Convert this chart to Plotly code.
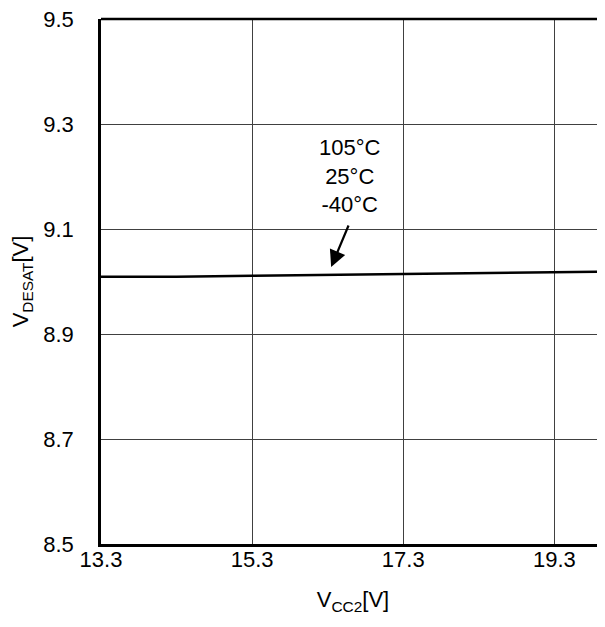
import plotly.graph_objects as go

vcc2 = [13.3, 14.3, 15.3, 16.3, 17.3, 18.3, 19.3, 20.0]
vdesat = [9.009, 9.009, 9.011, 9.013, 9.014, 9.016, 9.018, 9.019]
x_ticks = [13.3, 15.3, 17.3, 19.3]
y_ticks = [8.5, 8.7, 8.9, 9.1, 9.3, 9.5]
label_text = "105°C<br>25°C<br>-40°C"

FONT = "Liberation Sans, Arial, sans-serif"

fig = go.Figure()
fig.add_trace(go.Scatter(x=vcc2, y=vdesat, mode="lines",
                         line=dict(color="black", width=2.5),
                         showlegend=False, hoverinfo="skip"))

fig.add_annotation(x=16.6, y=9.201, xref="x", yref="y", text=label_text,
                   showarrow=False, font=dict(family=FONT, size=22, color="black"),
                   align="center", xanchor="center", yanchor="middle")
fig.add_annotation(x=16.346, y=9.0276, xref="x", yref="y", ax=18, ay=-43,
                   text="", showarrow=True, arrowhead=2, arrowsize=1.5,
                   arrowwidth=2.2, arrowcolor="black")

fig.add_shape(type="line", xref="paper", yref="paper", x0=0, x1=1, y0=1, y1=1,
              line=dict(color="black", width=2.5))

fig.update_layout(
    width=597, height=611,
    margin=dict(l=93, r=0, t=11, b=75),
    paper_bgcolor="white", plot_bgcolor="white",
    font=dict(family=FONT, size=22, color="black"),
    xaxis=dict(range=[13.3, 19.97], tickvals=x_ticks,
               ticktext=[f"{v:.1f}" for v in x_ticks],
               showgrid=True, gridcolor="#404040", gridwidth=1,
               showline=True, linecolor="black", linewidth=2.5,
               ticks="", ticklen=0, zeroline=False, ticklabelstandoff=-6,
               ticklabeloverflow="allow", automargin=False,
               title=dict(text="V<sub>CC2</sub>[V]", standoff=21,
                          font=dict(size=22))),
    yaxis=dict(range=[8.5, 9.5], tickvals=y_ticks,
               ticktext=[f"{v:.1f}" for v in y_ticks],
               showgrid=True, gridcolor="#404040", gridwidth=1,
               showline=True, linecolor="black", linewidth=2.5,
               ticks="", ticklen=0, zeroline=False, ticklabelstandoff=20,
               ticklabeloverflow="allow", automargin=False,
               title=dict(text="V<sub>DESAT</sub>[V]", standoff=26,
                          font=dict(size=22))),
)

fig.write_html("out.html")
